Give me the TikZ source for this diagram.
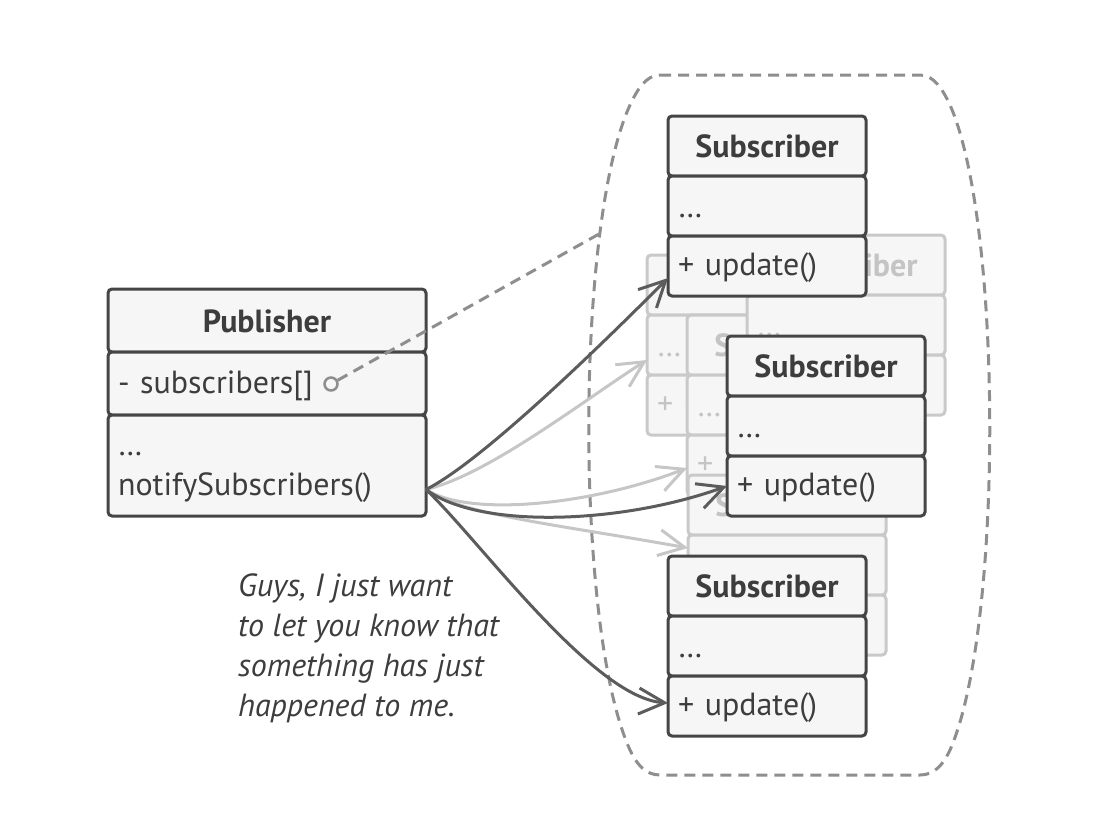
\documentclass[tikz,border=0pt]{standalone}
\usepackage{fontspec}
\setmainfont{PT Sans}
\usetikzlibrary{arrows.meta}

\definecolor{boxline}{HTML}{454545}
\definecolor{boxfill}{HTML}{F6F6F6}
\definecolor{boxtext}{HTML}{3D3D3D}
\definecolor{ghostline}{HTML}{C9C9C9}
\definecolor{ghosttext}{HTML}{C4C4C4}
\definecolor{hullgray}{HTML}{8E8E8E}
\definecolor{darkarrow}{HTML}{5C5C5C}
\definecolor{lightarrow}{HTML}{C6C6C6}

\begin{document}
\begin{tikzpicture}[x=1pt, y=-1pt,
		cell/.style={draw=boxline, fill=boxfill, text=boxtext, line width=3pt, rounded corners=4pt,
			anchor=north west, inner xsep=10pt, inner ysep=0pt, outer sep=0pt,
			minimum height=60pt, text width=178pt, align=left,
			font=\fontsize{32}{40}\selectfont,
			execute at begin node={\rule{0pt}{27pt}}, execute at end node={\rule[-4pt]{0pt}{4pt}}},
		head/.style={align=center, font=\bfseries\fontsize{32}{40}\selectfont},
		ghost/.style={draw=ghostline, text=ghosttext},
		live/.style={},
		notify/.style={draw=darkarrow, line width=3pt, -{Straight Barb[length=26pt, width=26pt]}},
		echo/.style={notify, draw=lightarrow},
		hull/.style={draw=hullgray, line width=3pt, dash pattern=on 11pt off 7pt}]
	\useasboundingbox (0,0) rectangle (1094,822);

	% the group of subscribers
	\draw[hull] (660,75) -- (920,75) .. controls (934,75) and (943,90) .. (950,105)
		.. controls (1003,225) and (1003,630) .. (950,750) .. controls (943,765) and (934,775) .. (920,775)
		-- (660,775) .. controls (646,775) and (637,765) .. (630,750)
		.. controls (575,630) and (575,225) .. (630,105) .. controls (637,90) and (646,75) .. (660,75) -- cycle;
	\coordinate (hull-w) at (599,234);

	% subscribers, faded ones first
	\foreach \n/\px/\py/\look in {g2/647/255/ghost, g3/687/315/ghost, g1/747/235/ghost, g4/688/475/ghost,
			s1/668/116/live, s2/727/336/live, s3/668/556/live}{
		\node[cell, head, \look] (\n-h) at (\px,\py) {Subscriber};
		\node[cell, \look] (\n-f) at (\n-h.south west) {\dots};
		\node[cell, \look] (\n-m) at (\n-f.south west) {+ update()};
	}

	% publisher
	\node[cell, head, text width=298pt, minimum height=63pt] (pub-h) at (108,289) {Publisher};
	\node[cell, text width=298pt, minimum height=63pt] (pub-f) at (pub-h.south west) {- subscribers[]};
	\node[cell, text width=298pt, minimum height=101pt] (pub-m) at (pub-f.south west) {\dots\\notifySubscribers()};
	\node[circle, draw=hullgray, fill=boxfill, line width=2.5pt, minimum size=13pt, inner sep=0pt] (ref) at (331,384) {};
	\draw[hull] (ref) -- (hull-w);

	% notifications
	\coordinate (fan) at ([yshift=-24pt]pub-m.east);
	\draw[echo] (fan) .. controls +(63,-15) and +(-63,40) .. ([yshift=-15pt]g2-f.west);
	\draw[echo] (fan) .. controls +(43,28) and +(-95,37) .. ([yshift=-3pt]g3-m.west);
	\draw[echo] (fan) .. controls +(33,25) and +(-127,-23) .. ([yshift=17pt]g4-f.west);
	\draw[notify] (fan) .. controls +(60,-30) and +(-50,50) .. ([yshift=-12pt]s1-m.west);
	\draw[notify] (fan) .. controls +(53,40) and +(-105,38) .. (s2-m.west);
	\draw[notify] (fan) .. controls +(53,50) and +(-75,-5) .. ([yshift=3pt]s3-m.west);

	\node[anchor=north west, align=left, inner sep=0pt, text=boxtext, font=\itshape\fontsize{32}{40}\selectfont]
		(note) at (238,574) {Guys, I just want\\to let you know that\\something has just\\happened to me.};
\end{tikzpicture}
\end{document}
